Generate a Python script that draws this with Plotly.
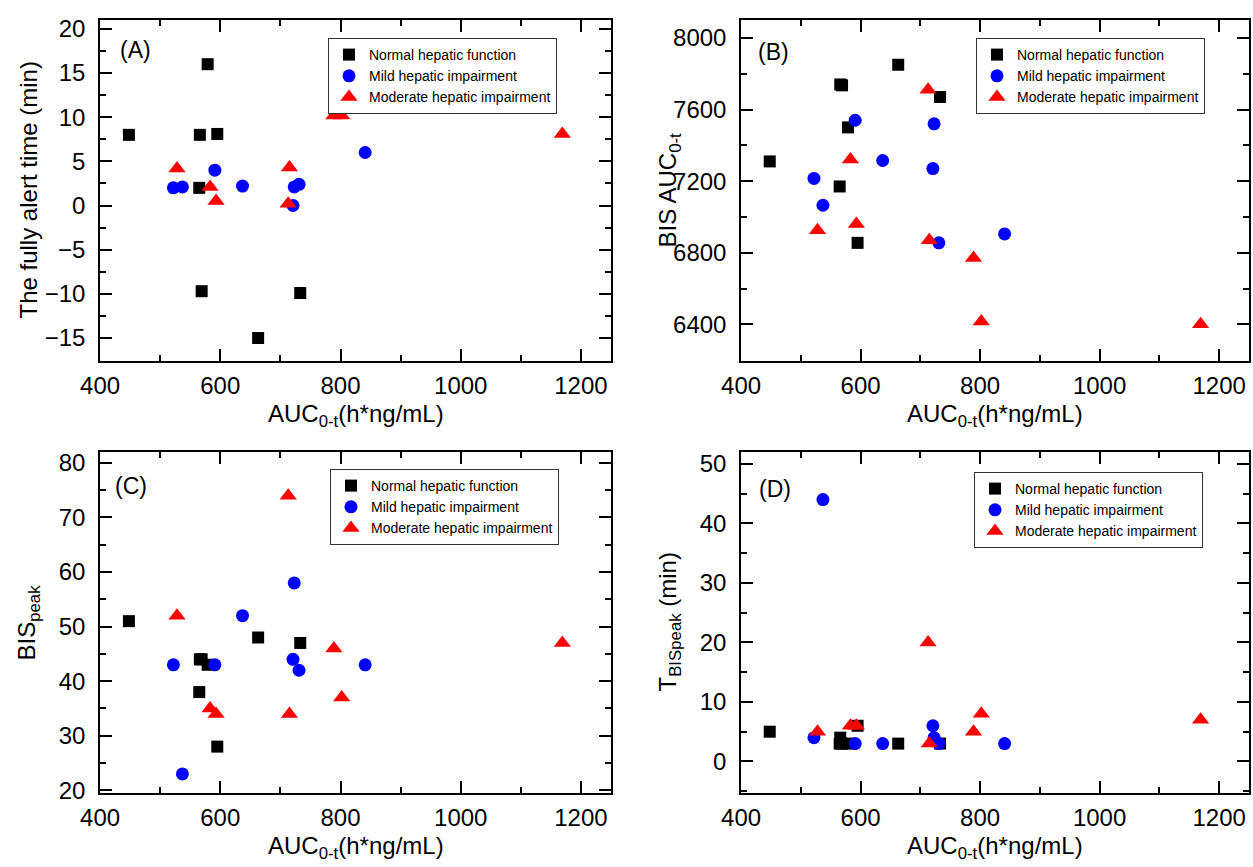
import plotly.graph_objects as go

# ---------------- data ----------------
groups = ["Normal hepatic function", "Mild hepatic impairment", "Moderate hepatic impairment"]

auc_normal = [448, 579, 566, 595, 565, 569, 733, 663]
auc_mild = [522, 537, 591, 637, 723, 721, 731, 841]
auc_moderate = [528, 583, 593, 713, 715, 789, 802, 1169]

alert_normal = [8, 16, 8, 8.1, 2, -9.7, -9.9, -15]
alert_mild = [2, 2.1, 4, 2.2, 2.1, 0, 2.4, 6]
alert_moderate = [4.2, 2.1, 0.5, 0.2, 4.3, 10.2, 10.2, 8.1]

bisauc_normal = [7310, 7500, 7740, 6855, 7170, 7735, 7670, 7850]
bisauc_mild = [7215, 7065, 7540, 7315, 7520, 7270, 6855, 6905]
bisauc_moderate = [6925, 7320, 6960, 7710, 6870, 6770, 6415, 6400]

bispeak_normal = [51, 43, 44, 28, 38, 44, 47, 48]
bispeak_mild = [43, 23, 43, 52, 58, 44, 42, 43]
bispeak_moderate = [52, 35, 34, 74, 34, 46, 37, 47]

tpeak_normal = [5, 3, 4, 6, 3, 3, 3, 3]
tpeak_mild = [4, 44, 3, 3, 4, 6, 3, 3]
tpeak_moderate = [5, 6, 6, 20, 3, 5, 8, 7]

panel_labels = ["(A)", "(B)", "(C)", "(D)"]
y_titles = ["The fully alert time (min)", "BIS AUC<sub>0-t</sub>",
            "BIS<sub>peak</sub>", "T<sub>BISpeak</sub> (min)"]
x_title = "AUC<sub>0-t</sub>(h*ng/mL)"

# ---------------- layout geometry ----------------
W, H = 1253, 867
FONT = "Arial, Liberation Sans, sans-serif"

def px_x(v):
    return v / W

def px_y(v):
    return 1 - v / H

# pixel boxes (left, right, top, bottom)
boxes = [(100, 611, 20, 361), (741, 1249, 20, 361),
         (100, 611, 452, 793), (741, 1249, 452, 793)]
yranges = [[-17.6, 21], [6195, 8100], [19.5, 82], [-5.3, 52]]
ydticks = [5, 400, 10, 10]

series = [
    (alert_normal, alert_mild, alert_moderate),
    (bisauc_normal, bisauc_mild, bisauc_moderate),
    (bispeak_normal, bispeak_mild, bispeak_moderate),
    (tpeak_normal, tpeak_mild, tpeak_moderate),
]
xs = (auc_normal, auc_mild, auc_moderate)
colors = ["#000000", "#0000FF", "#FF0000"]
symbols = ["square", "circle", "triangle-up"]
sizes = [12, 13, 15]

legend_pos = [(328, 38), (976, 38), (330, 469), (974, 472)]
label_pos = [(135, 50), (773, 52), (131, 486), (775, 489)]

fig = go.Figure()
layout = dict(width=W, height=H, margin=dict(l=0, r=0, t=0, b=0, pad=0, autoexpand=False),
              paper_bgcolor="white", plot_bgcolor="white",
              font=dict(family=FONT, color="black"))
annotations = []

for i in range(4):
    sfx = "" if i == 0 else str(i + 1)
    leg = "legend" + sfx
    for g in range(3):
        fig.add_trace(go.Scatter(
            x=xs[g], y=series[i][g], mode="markers", name=groups[g],
            marker=dict(symbol=symbols[g], size=sizes[g], color=colors[g],
                        line=dict(width=0)),
            xaxis="x" + sfx, yaxis="y" + sfx, legend=leg, showlegend=True))
    l, r, t, b = boxes[i]
    common = dict(showline=True, linecolor="black", linewidth=1.5, mirror="ticks",
                  ticks="inside", ticklen=12, tickwidth=1.5, tickcolor="black",
                  showgrid=False, zeroline=False, automargin=False,
                  tickfont=dict(family=FONT, size=24, color="black"))
    layout["xaxis" + sfx] = dict(
        common, domain=[px_x(l), px_x(r)], range=[399.9, 1250], dtick=200, tick0=0,
        anchor="y" + sfx, ticklabelstandoff=2,
        minor=dict(ticks="inside", ticklen=6, tickwidth=1.5, tickcolor="black", dtick=100))
    layout["yaxis" + sfx] = dict(
        common, domain=[px_y(b), px_y(t)], range=yranges[i], dtick=ydticks[i], tick0=0,
        anchor="x" + sfx, ticklabelstandoff=8,
        minor=dict(ticks="inside", ticklen=6, tickwidth=1.5, tickcolor="black",
                   dtick=ydticks[i] / 2))
    lx, ly = legend_pos[i]
    layout[leg] = dict(x=px_x(lx), y=px_y(ly), xanchor="left", yanchor="top",
                       xref="paper", yref="paper",
                       bgcolor="white", bordercolor="#333333", borderwidth=1,
                       font=dict(family=FONT, size=14, color="black"),
                       itemsizing="trace", tracegroupgap=0)
    px, py = label_pos[i]
    annotations.append(dict(text=panel_labels[i], x=px_x(px), y=px_y(py),
                            xref="paper", yref="paper", xanchor="center", yanchor="middle",
                            showarrow=False, font=dict(family=FONT, size=23, color="black")))
    # x title
    annotations.append(dict(text=x_title, x=px_x((l + r) / 2), y=px_y(b + 37),
                            xref="paper", yref="paper", xanchor="center", yanchor="top",
                            showarrow=False, font=dict(family=FONT, size=24, color="black")))
    # y title
    annotations.append(dict(text=y_titles[i], x=px_x(l - 72), y=px_y((t + b) / 2),
                            xref="paper", yref="paper", xanchor="center", yanchor="middle",
                            textangle=-90, showarrow=False,
                            font=dict(family=FONT, size=24, color="black")))

layout["annotations"] = annotations
fig.update_layout(**layout)
fig.write_html("out.html", config={"displayModeBar": False},
               post_script="document.body.style.margin='0';")
